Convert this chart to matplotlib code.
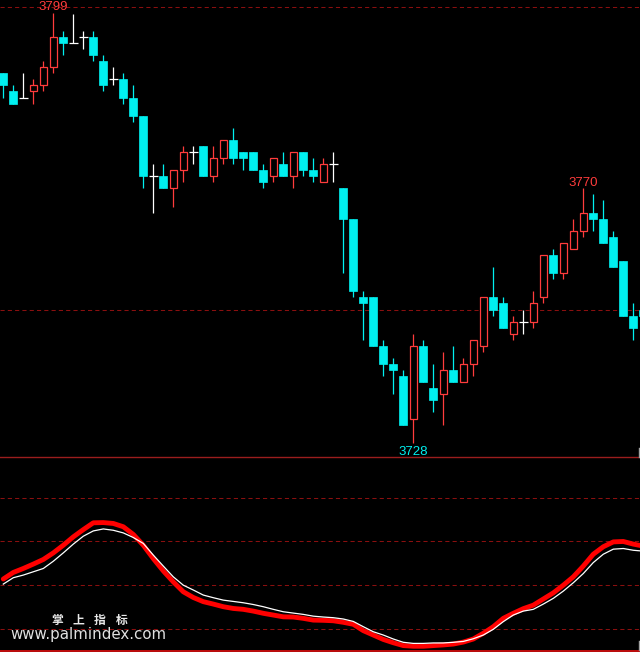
import matplotlib
matplotlib.use("Agg")
import matplotlib.pyplot as plt
from matplotlib.lines import Line2D
import numpy as np

# ---------------- data ----------------
opens = [3789, 3786, 3785, 3786, 3787, 3790, 3795, 3794, 3795, 3795,
         3791, 3788, 3788, 3785, 3782, 3772, 3772, 3770, 3773, 3776,
         3777, 3772, 3775, 3778, 3776, 3776, 3773, 3772, 3774, 3772,
         3776, 3773, 3771, 3774, 3770, 3765, 3752, 3752, 3744, 3741,
         3739, 3732, 3744, 3737, 3736, 3740, 3738, 3741, 3744, 3752,
         3751, 3746, 3748, 3748, 3752, 3759, 3756, 3760, 3763, 3766,
         3765, 3762, 3758, 3749, 3750]
highs = [3789, 3787, 3789, 3788, 3791, 3799, 3796, 3798.8, 3796, 3796,
         3792, 3790, 3789, 3787, 3782, 3774, 3774, 3773, 3777, 3777,
         3777, 3777, 3778, 3780, 3776, 3776, 3774, 3775, 3776, 3776,
         3776, 3775, 3775, 3776, 3770, 3765, 3753, 3752, 3745, 3742,
         3740, 3746, 3745, 3741, 3743, 3744, 3742, 3745, 3752, 3757,
         3752, 3749, 3750, 3753, 3759, 3760, 3761, 3765, 3770, 3769,
         3768, 3763, 3758, 3751, 3750]
lows = [3785, 3784, 3785, 3784, 3786, 3789, 3792, 3794, 3793, 3791,
        3786, 3787, 3784, 3781, 3770, 3766, 3770, 3767, 3771, 3774,
        3772, 3771, 3774, 3774, 3773, 3773, 3770, 3771, 3772, 3770,
        3772, 3771, 3771, 3771, 3756, 3752, 3745, 3744, 3739, 3736,
        3731, 3728, 3738, 3733, 3731, 3738, 3738, 3739, 3743, 3749,
        3747, 3745, 3746, 3747, 3751, 3755, 3755, 3760, 3762, 3763,
        3761, 3757, 3749, 3745, 3749]
closes = [3787, 3784, 3785, 3787, 3790, 3795, 3794, 3794, 3795, 3792,
          3787, 3788, 3785, 3782, 3772, 3772, 3770, 3773, 3776, 3776,
          3772, 3775, 3778, 3775, 3775, 3773, 3771, 3775, 3772, 3776,
          3773, 3772, 3774, 3774, 3765, 3753, 3751, 3744, 3741, 3740,
          3731, 3744, 3738, 3735, 3740, 3738, 3741, 3745, 3752, 3750,
          3747, 3748, 3748, 3751, 3759, 3756, 3761, 3763, 3766, 3765,
          3761, 3757, 3749, 3747, 3749]

# oscillator (lower panel)
line_red = [42.9, 45.9, 47.7, 49.7, 51.8, 54.8, 58.3, 62.1, 65.4, 68.5,
            68.6, 68.2, 66.7, 63.2, 58.3, 52.2, 46.6, 41.6, 37.1, 34.5,
            32.6, 31.5, 30.3, 29.5, 29.1, 28.3, 27.3, 26.5, 25.7, 25.6,
            25.0, 24.2, 24.1, 23.9, 23.2, 22.3, 19.4, 17.4, 15.4, 13.9,
            12.6, 12.3, 12.3, 12.6, 12.9, 13.3, 14.2, 15.6, 18.2, 21.2,
            25.0, 27.3, 29.4, 31.0, 33.8, 36.6, 40.1, 43.9, 48.8, 54.2,
            57.6, 59.8, 60.0, 58.8, 57.9]
line_white = [40.6, 43.5, 44.7, 46.2, 47.7, 51.0, 54.8, 58.8, 62.4, 64.8,
              65.7, 65.1, 63.9, 61.8, 59.1, 53.8, 48.8, 43.9, 40.1, 37.9,
              35.6, 34.4, 33.3, 32.7, 32.1, 31.3, 30.3, 29.1, 28.0, 27.4,
              26.8, 26.0, 25.6, 25.3, 24.7, 23.6, 21.2, 18.9, 17.4, 15.6,
              14.1, 13.6, 13.6, 13.8, 13.8, 14.1, 14.5, 15.7, 17.4, 20.0,
              23.5, 26.5, 28.3, 29.1, 31.5, 34.1, 37.4, 41.2, 45.4, 50.4,
              54.2, 56.5, 56.8, 56.0, 55.6]

price_levels = [3750, 3800]
osc_levels = [20, 40, 60, 80]
labels = [(5, "3799", "high"), (58, "3770", "high"), (41, "3728", "low")]

# ---------------- style ----------------
BG = "#000000"
UP = "#ff3c3c"
DOWN = "#00f0f0"
DOJI = "#ffffff"
GRID = "#8a0f0f"
SEP = "#9a1d1d"

W, H = 640, 652
fig = plt.figure(figsize=(W / 100, H / 100), dpi=100, facecolor=BG)

sep_px = 457.3
ax = fig.add_axes([0, (H - sep_px) / H, 1, sep_px / H], facecolor=BG)
ax2 = fig.add_axes([0, 0, 1, (H - sep_px) / H], facecolor=BG)

n = len(opens)
x = np.arange(n)
o = np.array(opens, float)
h = np.array(highs, float)
l = np.array(lows, float)
c = np.array(closes, float)

up = c > o
dn = c < o
eq = c == o

lw1 = 0.9
# wicks
for mask, col in ((up, UP), (dn, DOWN), (eq, DOJI)):
    ax.vlines(x[mask], l[mask], h[mask], color=col, lw=lw1, zorder=2)
bw = 0.82
# down candles: filled
ax.bar(x[dn], (o - c)[dn], bottom=c[dn], width=bw, color=DOWN,
       edgecolor=DOWN, lw=0.5, zorder=3)
# up candles: hollow
ax.bar(x[up], (c - o)[up], bottom=o[up], width=bw - 0.08, facecolor=BG,
       edgecolor=UP, lw=lw1, zorder=3)
# doji
ax.hlines(c[eq], x[eq] - 0.43, x[eq] + 0.43, color=DOJI, lw=lw1, zorder=3)

for lv in price_levels:
    ax.axhline(lv, color=GRID, lw=0.75, ls=(0, (4, 3)), zorder=1)

for k, txt, kind in labels:
    if kind == "high":
        ax.annotate(txt, (x[k], h[k]), xytext=(0, 1.8), textcoords="offset points",
                    ha="center", va="baseline", color=UP, fontsize=9.5,
                    family="Liberation Sans")
    else:
        ax.annotate(txt, (x[k], l[k]), xytext=(0, -2.5), textcoords="offset points",
                    ha="center", va="top", color=DOWN, fontsize=9.5,
                    family="Liberation Sans")

ax.set_xlim(-0.33, 63.67)
ax.set_ylim(3725.6, 3801.1)
ax.axis("off")

# lower panel
for lv in osc_levels:
    ax2.axhline(lv, color=GRID, lw=0.75, ls=(0, (4, 3)), zorder=1)
ax2.axhline(10.36, color="#e01010", lw=1.2, zorder=1)
ax2.plot(x, line_red, color="#ff0000", lw=3.5, solid_capstyle="round",
         solid_joinstyle="round", zorder=3)
ax2.plot(x, line_white, color="#ffffff", lw=0.9, zorder=4)
ax2.set_xlim(-0.33, 63.67)
ax2.set_ylim(9.68, 98.32)
ax2.axis("off")

# separator line and right ticks
fig.add_artist(Line2D([0, 1], [(H - sep_px) / H] * 2, color=SEP, lw=1.0))
fig.add_artist(Line2D([638.5 / W] * 2, [(H - 448) / H, (H - 457) / H],
                      color="#a0a0a0", lw=1.0))
fig.add_artist(Line2D([638.5 / W] * 2, [(H - 641) / H, (H - 650) / H],
                      color="#a0a0a0", lw=1.0))

# watermark
for cx, ch in zip([57, 78, 100, 122], ["掌", "上", "指", "标"]):
    fig.text(cx / W, (H - 620.5) / H, ch, ha="center", va="center",
             color="#e8e8e8", fontsize=8.5, fontweight="bold",
             family=["Noto Sans CJK SC", "DejaVu Sans"])
fig.text(10 / W, (H - 639) / H, "www.palmindex.com", ha="left",
         va="baseline", color="#e0e0e0", fontsize=10.8, family="DejaVu Sans")

fig.savefig("out.png", dpi=100, facecolor=BG)
